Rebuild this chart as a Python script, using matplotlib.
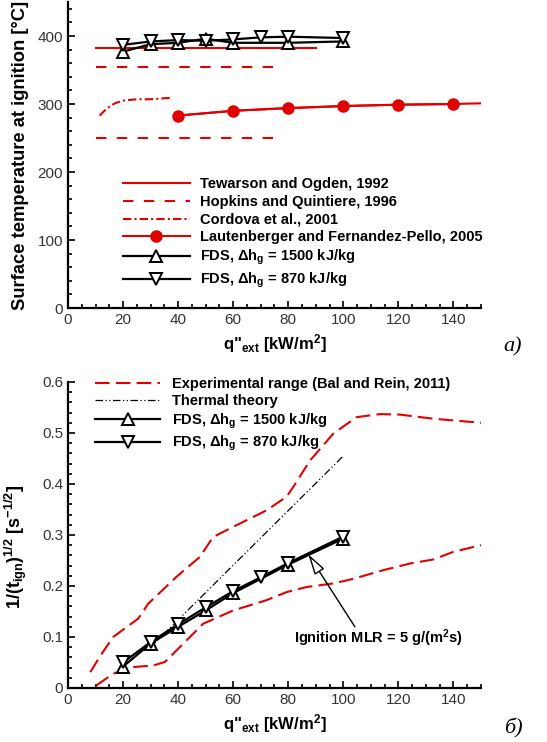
import numpy as np
import matplotlib
matplotlib.use('Agg')
import matplotlib.pyplot as plt
from matplotlib.ticker import MultipleLocator, FuncFormatter

plt.rcParams['font.family'] = ['Liberation Sans', 'DejaVu Sans']
plt.rcParams['mathtext.fontset'] = 'custom'
plt.rcParams['mathtext.rm'] = 'Liberation Sans:bold'
plt.rcParams['mathtext.it'] = 'Liberation Sans:bold'
plt.rcParams['mathtext.bf'] = 'Liberation Sans:bold'

RED = '#e00000'

# ---- panel a) surface temperature at ignition
tew_x = [10, 90]
tew_y = [382, 382]
hop_x = [10, 78]
hop_hi = [355, 355]
hop_lo = [250, 250]
cor_x = [11.5, 14, 17, 20, 25, 30, 37]
cor_y = [283, 293, 301, 305, 307, 307, 309]
lau_x = [40, 60, 80, 100, 120, 140, 150]
lau_y = [283, 290, 294, 297, 299, 300, 301]
lau_mark = [40, 60, 80, 100, 120, 140]
fds1500_x = [20, 30, 40, 50, 60, 80, 100]
fds1500_T = [377, 388, 390, 396, 390, 390, 392]
fds870_x = [20, 30, 40, 50, 60, 70, 80, 100]
fds870_T = [387, 392, 394, 393, 395, 398, 399, 397]

# ---- panel б) ignition time
exp_hi_x = [8.1, 11.5, 16.4, 25.5, 29.1, 39.4, 47.9, 52.7, 60, 72, 79.4, 81.8,
            87.9, 96.4, 104.8, 113.3, 120.6, 132.7, 150]
exp_hi_y = [0.031, 0.061, 0.100, 0.136, 0.165, 0.218, 0.257, 0.296, 0.316, 0.348,
            0.375, 0.394, 0.446, 0.499, 0.531, 0.537, 0.536, 0.528, 0.520]
exp_lo_x = [10.3, 16.4, 23.6, 30.9, 35.2, 40.6, 49.1, 60, 72, 79.4, 86.7, 96.4,
            103.6, 114.5, 124.2, 132.7, 140, 150]
exp_lo_y = [0.005, 0.028, 0.041, 0.044, 0.051, 0.080, 0.126, 0.152, 0.172, 0.188,
            0.198, 0.205, 0.214, 0.231, 0.244, 0.252, 0.267, 0.280]
theory_x = [30, 100]
theory_y = [0.080, 0.455]
fds1500_t = [0.042, 0.087, 0.120, 0.152, 0.186, 0.242, 0.293]
fds870_t = [0.050, 0.090, 0.125, 0.158, 0.190, 0.217, 0.245, 0.297]

fig = plt.figure(figsize=(5.47, 7.42), dpi=100)
ax1 = fig.add_axes([0.1243, 0.5849, 0.755, 0.4124])
ax2 = fig.add_axes([0.1243, 0.0728, 0.755, 0.4124])


def style(ax):
    for s in ['top', 'right']:
        ax.spines[s].set_visible(False)
    for s in ['left', 'bottom']:
        ax.spines[s].set_linewidth(1.6)
    ax.tick_params(which='both', direction='in', labelsize=11, width=1.2,
                   labelcolor='#333333')
    ax.tick_params(which='major', length=5)
    ax.tick_params(which='minor', length=3)
    ax.set_xlim(0, 150)
    ax.xaxis.set_major_locator(MultipleLocator(20))
    ax.xaxis.set_minor_locator(MultipleLocator(5))
    ax.set_xlabel('q"$_{ext}$ [kW/m$^2$]', fontsize=12, fontweight='bold')


# panel a
style(ax1)
ax1.plot(tew_x, tew_y, color=RED, lw=1.5, label='Tewarson and Ogden, 1992')
ax1.plot(hop_x, hop_hi, color=RED, lw=1.5, dashes=(5, 5), label='Hopkins and Quintiere, 1996')
ax1.plot(hop_x, hop_lo, color=RED, lw=1.5, dashes=(5, 5))
ax1.plot(cor_x, cor_y, color=RED, lw=1.5, dashes=(4, 1.5, 1, 1.5),
         label='Cordova et al., 2001')
ax1.plot(lau_x, lau_y, color=RED, lw=1.5)
ax1.plot(lau_mark, lau_y[:len(lau_mark)], color=RED, lw=1.5, marker='o', ms=8,
         label='Lautenberger and Fernandez-Pello, 2005')
ax1.plot(fds1500_x, fds1500_T, color='k', lw=1.6, marker='^', ms=9, mfc='white',
         mec='k', mew=1.4, label='FDS, Δh$_g$ = 1500 kJ/kg')
ax1.plot(fds870_x, fds870_T, color='k', lw=1.6, marker='v', ms=9, mfc='white',
         mec='k', mew=1.4, label='FDS, Δh$_g$ = 870 kJ/kg')
ax1.set_ylim(0, 450)
ax1.yaxis.set_major_locator(MultipleLocator(100))
ax1.yaxis.set_minor_locator(MultipleLocator(20))
ax1.set_ylabel('Surface temperature at ignition [°C]', fontsize=13.2, fontweight='bold')
ax1.yaxis.set_label_coords(-0.095, 0.5)
leg1 = ax1.legend(loc='upper left', bbox_to_anchor=(0.133, 0.427), frameon=False,
                  prop={'weight': 'bold', 'size': 10.5}, handlelength=4.6,
                  handletextpad=0.7, labelspacing=0.25, borderpad=0,
                  borderaxespad=0, numpoints=1)

# panel б
style(ax2)
ax2.plot(exp_hi_x, exp_hi_y, color=RED, lw=1.5, dashes=(7, 3),
         label='Experimental range (Bal and Rein, 2011)')
ax2.plot(exp_lo_x, exp_lo_y, color=RED, lw=1.5, dashes=(7, 3))
ax2.plot(theory_x, theory_y, color='k', lw=0.9, dashes=(6, 2, 1, 2, 1, 2),
         label='Thermal theory')
ax2.plot(fds1500_x, fds1500_t, color='k', lw=1.6, marker='^', ms=9, mfc='white',
         mec='k', mew=1.4, label='FDS, Δh$_g$ = 1500 kJ/kg')
ax2.plot(fds870_x, fds870_t, color='k', lw=1.6, marker='v', ms=9, mfc='white',
         mec='k', mew=1.4, label='FDS, Δh$_g$ = 870 kJ/kg')
ax2.set_ylim(0, 0.6)
ax2.yaxis.set_major_locator(MultipleLocator(0.1))
ax2.yaxis.set_minor_locator(MultipleLocator(0.02))
ax2.yaxis.set_major_formatter(FuncFormatter(lambda v, p: '0' if abs(v) < 1e-9 else f'{v:.1f}'))
ax2.set_ylabel('1/(t$_{ign}$)$^{1/2}$ [s$^{-1/2}$]', fontsize=13, fontweight='bold')
ax2.yaxis.set_label_coords(-0.095, 0.46)
ax2.legend(loc='upper left', bbox_to_anchor=(0.065, 1.016), frameon=False,
           prop={'weight': 'bold', 'size': 10.5}, handlelength=4.5,
           handletextpad=0.8, labelspacing=0.22, borderpad=0,
           borderaxespad=0, numpoints=1)
ax2.annotate('', xy=(87.3, 0.262), xytext=(104.2, 0.12),
             arrowprops=dict(arrowstyle='-|>,head_length=0.9,head_width=0.25',
                             fc='white', ec='k', lw=1, mutation_scale=14,
                             shrinkA=0, shrinkB=0))
ax2.text(112.6, 0.098, 'Ignition MLR = 5 g/(m$^2$s)', fontsize=10.5,
         fontweight='bold', ha='center', va='center')

fig.text(513 / 547, 1 - 347 / 742, 'a)', family='Liberation Serif', style='italic',
         fontsize=16, ha='center', va='center')
fig.text(513 / 547, 1 - 728 / 742, 'б)', family='Liberation Serif', style='italic',
         fontsize=16, ha='center', va='center')

fig.savefig('out.png', dpi=100)
